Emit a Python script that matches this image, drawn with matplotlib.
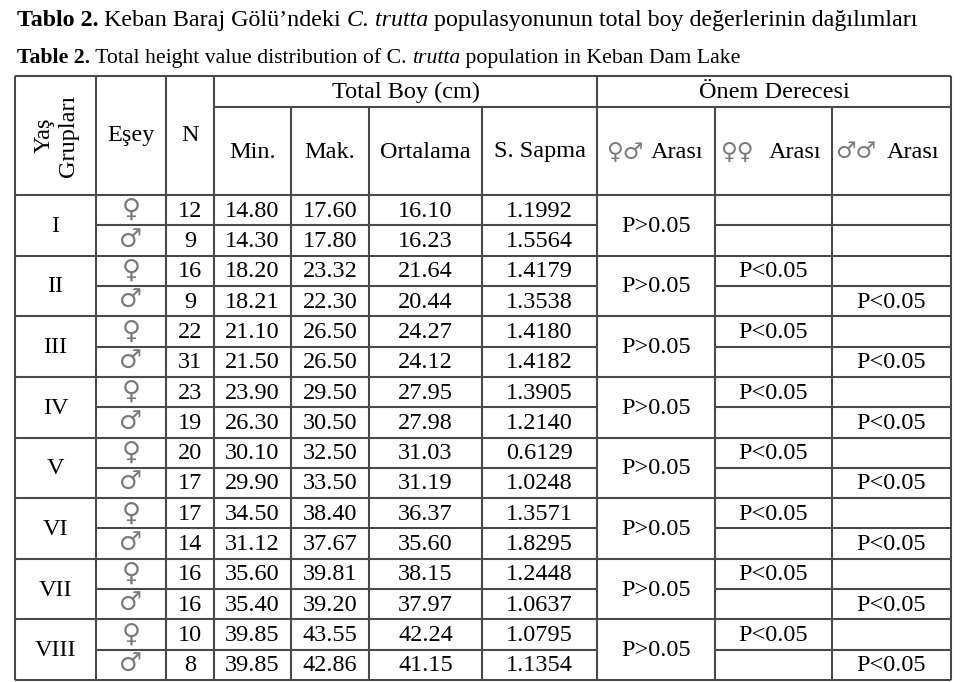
import numpy as np
import matplotlib
matplotlib.use('Agg')
import matplotlib.pyplot as plt

plt.rcParams['font.family'] = ['Liberation Serif', 'DejaVu Sans']

# table data
groups = ['I', 'II', 'III', 'IV', 'V', 'VI', 'VII', 'VIII']
n_female = [12, 16, 22, 23, 20, 17, 16, 10]
n_male = [9, 9, 31, 19, 17, 14, 16, 8]
min_female = [14.80, 18.20, 21.10, 23.90, 30.10, 34.50, 35.60, 39.85]
min_male = [14.30, 18.21, 21.50, 26.30, 29.90, 31.12, 35.40, 39.85]
max_female = [17.60, 23.32, 26.50, 29.50, 32.50, 38.40, 39.81, 43.55]
max_male = [17.80, 22.30, 26.50, 30.50, 33.50, 37.67, 39.20, 42.86]
mean_female = [16.10, 21.64, 24.27, 27.95, 31.03, 36.37, 38.15, 42.24]
mean_male = [16.23, 20.44, 24.12, 27.98, 31.19, 35.60, 37.97, 41.15]
sd_female = [1.1992, 1.4179, 1.4180, 1.3905, 0.6129, 1.3571, 1.2448, 1.0795]
sd_male = [1.5564, 1.3538, 1.4182, 1.2140, 1.0248, 1.8295, 1.0637, 1.1354]
sig_fm = ['P>0.05'] * 8
sig_ff = [''] + ['P<0.05'] * 7
sig_mm = [''] + ['P<0.05'] * 7

# title pieces: (text, weight, style)
title_tr = [('Tablo 2.', 'bold', 'normal'), (' Keban Baraj Gölü’ndeki ', 'normal', 'normal'),
            ('C. trutta', 'normal', 'italic'),
            (' populasyonunun total boy değerlerinin dağılımları', 'normal', 'normal')]
title_en = [('Table 2.', 'bold', 'normal'),
            (' Total height value distribution of C. ', 'normal', 'normal'),
            ('trutta', 'normal', 'italic'), (' population in Keban Dam Lake', 'normal', 'normal')]

# layout (pixels)
col_x = [15, 96, 166, 214, 291, 369, 482, 597, 715, 832, 951]
y_top, y_mid, y_head = 76, 107, 195
row_h = (680 - y_head) / 16
row_y = [y_head + i * row_h for i in range(17)]
line_c = '#4a4a4a'
lw = 1.5
fs = 17.5
sym_c = '#7a7a7a'

fig = plt.figure(figsize=(9.68, 6.82), dpi=100)
ax = fig.add_axes([0, 0, 1, 1])
ax.set_xlim(0, 968)
ax.set_ylim(682, 0)
ax.axis('off')
renderer = fig.canvas.get_renderer()


def text_width(s, **kw):
    # measure with bars on both sides so spaces at the ends count
    t1 = ax.text(0, 0, '|' + s + '|', **kw)
    t2 = ax.text(0, 0, '||', **kw)
    w = t1.get_window_extent(renderer).width - t2.get_window_extent(renderer).width
    t1.remove()
    t2.remove()
    return w


def draw_runs(x, y, runs, size):
    for s, weight, style in runs:
        kw = dict(fontsize=size, fontweight=weight, fontstyle=style)
        ax.text(x, y, s, va='baseline', ha='left', **kw)
        x += text_width(s, **kw)


draw_runs(17, 26, title_tr, 17.3)
draw_runs(17, 63, title_en, 15.7)

# grid lines
ax.hlines([y_top, y_head, row_y[-1]], col_x[0], col_x[-1], color=line_c, lw=lw)
ax.hlines(y_mid, col_x[3], col_x[-1], color=line_c, lw=lw)
for i in range(2, 16, 2):
    ax.hlines(row_y[i], col_x[0], col_x[-1], color=line_c, lw=lw)
for i in range(1, 16, 2):
    ax.hlines(row_y[i], col_x[1], col_x[7], color=line_c, lw=lw)
    ax.hlines(row_y[i], col_x[8], col_x[10], color=line_c, lw=lw)
for k in [0, 1, 2, 3, 7, 10]:
    ax.vlines(col_x[k], y_top, row_y[-1], color=line_c, lw=lw)
for k in [4, 5, 6, 8, 9]:
    ax.vlines(col_x[k], y_mid, row_y[-1], color=line_c, lw=lw)


def cx(k):
    return (col_x[k] + col_x[k + 1]) / 2


# header
ax.text(cx(0) + 1, (y_top + y_head) / 2, 'Yaş\nGrupları', rotation=90, fontsize=fs,
        ha='center', va='center', multialignment='center')
ax.text(cx(1), (y_top + y_head) / 2, 'Eşey', fontsize=fs, ha='center', va='center')
ax.text(cx(2), (y_top + y_head) / 2, 'N', fontsize=fs, ha='center', va='center')
ax.text((col_x[3] + col_x[7]) / 2, (y_top + y_mid) / 2 + 1, 'Total Boy (cm)', fontsize=fs,
        ha='center', va='center')
ax.text((col_x[7] + col_x[10]) / 2, (y_top + y_mid) / 2 + 1, 'Önem Derecesi', fontsize=fs,
        ha='center', va='center')
y_sub = (y_mid + y_head) / 2 + 1
for k, lab in zip([3, 4, 5, 6], ['Min.', 'Mak.', 'Ortalama', 'S. Sapma']):
    ax.text(cx(k), y_sub, lab, fontsize=fs, ha='center', va='center')
for k, sym, gap in zip([7, 8, 9], ['♀♂', '♀♀', '♂♂'], [13, 20, 15]):
    ax.text(cx(k) - gap, y_sub, sym, fontsize=fs - 1, ha='right', va='center',
            color=sym_c, family='DejaVu Sans')
    ax.text(cx(k) - 5, y_sub, 'Arası', fontsize=fs, ha='left', va='center')

# body
for g in range(len(groups)):
    yf = (row_y[2 * g] + row_y[2 * g + 1]) / 2 + 1
    ym = (row_y[2 * g + 1] + row_y[2 * g + 2]) / 2 + 1
    yg = row_y[2 * g + 1] + 1
    ax.text(cx(0), yg, groups[g], fontsize=fs, ha='center', va='center')
    ax.text(cx(1), yf - 1, '♀', fontsize=fs + 1, ha='center', va='center', color=sym_c,
            family='DejaVu Sans')
    ax.text(cx(1), ym - 1, '♂', fontsize=fs + 1, ha='center', va='center', color=sym_c,
            family='DejaVu Sans')
    for y, vals in [(yf, [f"{n_female[g]}", f"{min_female[g]:.2f}", f"{max_female[g]:.2f}",
                          f"{mean_female[g]:.2f}", f"{sd_female[g]:.4f}"]),
                    (ym, [f"{n_male[g]}", f"{min_male[g]:.2f}", f"{max_male[g]:.2f}",
                          f"{mean_male[g]:.2f}", f"{sd_male[g]:.4f}"])]:
        for k, v in zip([2, 3, 4, 5, 6], vals):
            ax.text(cx(k), y, v, fontsize=fs, ha='center', va='center')
    ax.text(cx(7), yg, sig_fm[g], fontsize=fs, ha='center', va='center')
    ax.text(cx(8), yf, sig_ff[g], fontsize=fs, ha='center', va='center')
    ax.text(cx(9), ym, sig_mm[g], fontsize=fs, ha='center', va='center')

fig.savefig('out.png', dpi=100)
